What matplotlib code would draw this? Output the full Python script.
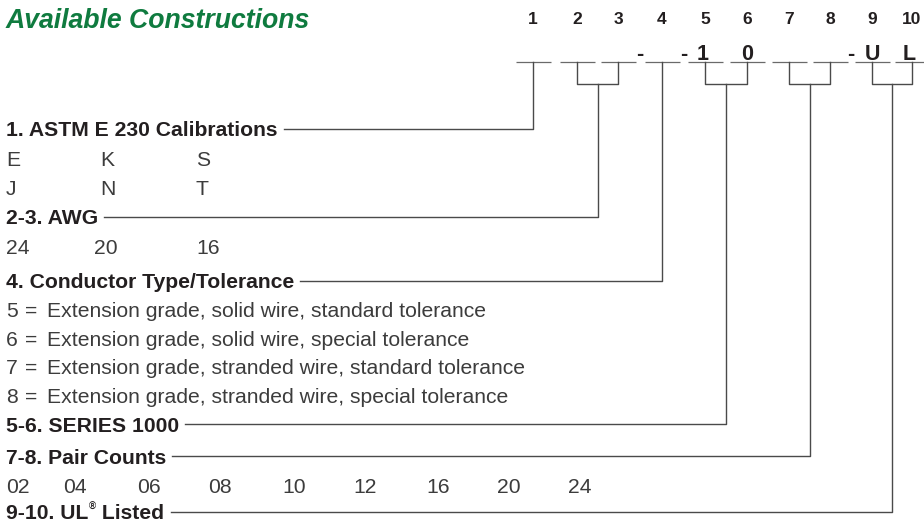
import matplotlib
matplotlib.use('Agg')
import matplotlib.pyplot as plt

# ---------------- data ----------------
title = "Available Constructions"
positions = ['1', '2', '3', '4', '5', '6', '7', '8', '9', '10']
fixed_chars = ['', '', '', '', '1', '0', '', '', 'U', 'L']
dash_before = [False, False, False, True, True, False, False, False, True, False]

section_labels = ["1. ASTM E 230 Calibrations", "2-3. AWG", "4. Conductor Type/Tolerance",
                  "5-6. SERIES 1000", "7-8. Pair Counts", "9-10. UL"]
section_slots = [[0], [1, 2], [3], [4, 5], [6, 7], [8, 9]]

calibrations_row1 = ['E', 'K', 'S']
calibrations_row2 = ['J', 'N', 'T']
awg_sizes = ['24', '20', '16']
tolerance_codes = ['5', '6', '7', '8']
tolerance_desc = ["Extension grade, solid wire, standard tolerance",
                  "Extension grade, solid wire, special tolerance",
                  "Extension grade, stranded wire, standard tolerance",
                  "Extension grade, stranded wire, special tolerance"]
pair_counts = ['02', '04', '06', '08', '10', '12', '16', '20', '24']

# ---------------- layout ----------------
W, H, DPI = 924, 522, 100
slot_x = [533, 577, 618, 662, 705, 747, 789, 830, 872, 912]
fixed_dx = [0, 0, 0, 0, -2, 0, 0, 0, 0, -3]
slot_half = 17.5
under_y = 61.7
join_y = 84
digit_y = 18
section_y = [128.5, 216.5, 280.5, 424.3, 456, 511.5]
calib_y = [158, 187]
calib_x = [6, 100, 196]
awg_y = 246
awg_x = [6, 94, 196]
tol_y = [309.5, 338, 366.5, 395.5]
pair_y = 485.5
pair_x = [6, 63, 137, 208, 282, 353, 426, 497, 568]

GREEN = '#0f7b3f'
DARK = '#231f20'
REG = '#3c3c3c'
LINE = '#4a4a4a'
FONT = 'Liberation Sans'

fig = plt.figure(figsize=(W / DPI, H / DPI), dpi=DPI)
ax = fig.add_axes([0, 0, 1, 1])
ax.set_xlim(0, W)
ax.set_ylim(H, 0)
ax.axis('off')

PX = DPI / 72.0


def put(x, yc, s, size, weight='normal', color=DARK, ha='left', style='normal'):
    base = yc + 0.716 * size * PX / 2
    return ax.text(x, base, s, fontsize=size, fontweight=weight, color=color,
                   ha=ha, va='baseline', family=FONT, style=style)


# title
put(6, 18.5, title, 19.2, weight='bold', color=GREEN, style='italic')

# position digits and blanks
for i, p in enumerate(positions):
    put(slot_x[i], digit_y, p, 12.5, weight='bold', ha='center')
    ax.plot([slot_x[i] - slot_half, slot_x[i] + slot_half], [under_y, under_y],
            color='#6a6a6a', lw=0.9, solid_capstyle='butt')
    if fixed_chars[i]:
        ax.text(slot_x[i] + fixed_dx[i], under_y - 1.5, fixed_chars[i], fontsize=15.5,
                fontweight='bold', color=DARK, ha='center', va='baseline', family=FONT)
    if dash_before[i]:
        xm = (slot_x[i - 1] + slot_x[i]) / 2
        ax.text(xm, under_y - 1.5, '-', fontsize=15.5, fontweight='bold',
                color=DARK, ha='center', va='baseline', family=FONT)

fig.canvas.draw()
renderer = fig.canvas.get_renderer()
inv = ax.transData.inverted()


def right_edge(t):
    bb = t.get_window_extent(renderer)
    return inv.transform((bb.x1, bb.y0))[0]


# section labels with leader lines
for lab, slots, yc in zip(section_labels, section_slots, section_y):
    t = put(6, yc, lab, 15.2, weight='bold')
    xr = right_edge(t)
    if lab.endswith('UL'):
        t2 = put(xr + 0.5, yc - 5, '®', 7, weight='bold')
        xr2 = right_edge(t2)
        t3 = put(xr2 + 0.5, yc, ' Listed', 15.2, weight='bold')
        xr = right_edge(t3)
    if len(slots) == 1:
        xt = slot_x[slots[0]]
        ax.plot([xr + 6, xt, xt], [yc, yc, under_y], color=LINE, lw=1.0)
    else:
        xa, xb = slot_x[slots[0]], slot_x[slots[1]]
        xm = (xa + xb) / 2
        ax.plot([xr + 6, xm, xm], [yc, yc, join_y], color=LINE, lw=1.0)
        ax.plot([xa, xa, xb, xb], [under_y, join_y, join_y, under_y], color=LINE, lw=1.0)

# sub items
for row, yc in zip([calibrations_row1, calibrations_row2], calib_y):
    for s, x in zip(row, calib_x):
        put(x, yc, s, 15.2, color=REG)
for s, x in zip(awg_sizes, awg_x):
    put(x, awg_y, s, 15.2, color=REG)
for code, desc, yc in zip(tolerance_codes, tolerance_desc, tol_y):
    put(6, yc, code, 15.2, color=REG)
    put(25, yc, '=', 15.2, color=REG)
    put(47, yc, desc, 15.2, color=REG)
for s, x in zip(pair_counts, pair_x):
    put(x, pair_y, s, 15.2, color=REG)

fig.savefig('out.png', dpi=DPI)
